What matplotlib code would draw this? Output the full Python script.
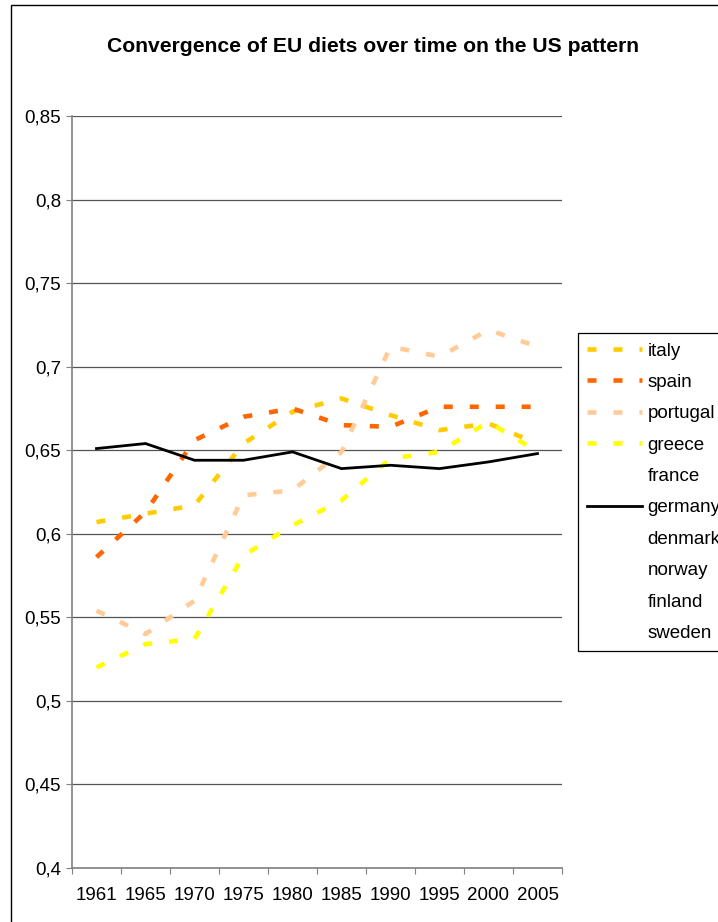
import matplotlib
matplotlib.use("Agg")
import matplotlib.pyplot as plt
from matplotlib.patches import Rectangle

plt.rcParams['font.family'] = ['Liberation Sans', 'DejaVu Sans']
plt.rcParams['lines.scale_dashes'] = False

years = ['1961', '1965', '1970', '1975', '1980', '1985', '1990', '1995', '2000', '2005']

italy = [0.607, 0.612, 0.617, 0.654, 0.673, 0.681, 0.671, 0.662, 0.666, 0.654]
spain = [0.586, 0.613, 0.656, 0.670, 0.675, 0.665, 0.664, 0.676, 0.676, 0.676]
portugal = [0.554, 0.540, 0.560, 0.623, 0.626, 0.649, 0.712, 0.706, 0.722, 0.712]
greece = [0.520, 0.534, 0.537, 0.587, 0.605, 0.620, 0.645, 0.649, 0.667, 0.649]
germany = [0.651, 0.654, 0.644, 0.644, 0.649, 0.639, 0.641, 0.639, 0.643, 0.648]

# countries listed in the key but with no line drawn
no_line = ['france', 'denmark', 'norway', 'finland', 'sweden']

dash = (0, (6.5, 12.2))
series = [
    ('italy', italy, '#FFCC00', dash, 3.3),
    ('spain', spain, '#FF6600', dash, 3.3),
    ('portugal', portugal, '#FFCC99', dash, 3.3),
    ('greece', greece, '#FFFF00', dash, 3.3),
    ('france', None, None, None, None),
    ('germany', germany, 'black', '-', 2.0),
    ('denmark', None, None, None, None),
    ('norway', None, None, None, None),
    ('finland', None, None, None, None),
    ('sweden', None, None, None, None),
]

W, H = 718, 922
fig = plt.figure(figsize=(W / 100, H / 100), dpi=100)
ax = fig.add_axes([72 / W, 1 - 868 / H, (562 - 72) / W, (868 - 116) / H])

x = list(range(len(years)))
for name, vals, color, ls, lw in series:
    if vals is None:
        ax.plot([], [], linestyle='None', label=name)
    else:
        ax.plot(x, vals, color=color, linestyle=ls, linewidth=lw,
                solid_joinstyle='miter', label=name)

ax.set_xlim(-0.5, len(years) - 0.5)
ax.set_ylim(0.4, 0.85)

# y axis with comma decimals
yt = [0.4, 0.45, 0.5, 0.55, 0.6, 0.65, 0.7, 0.75, 0.8, 0.85]
ax.set_yticks(yt)
ax.set_yticklabels([('%g' % v).replace('.', ',') for v in yt], fontsize=13.5)
ax.yaxis.grid(True, color='#555555', linewidth=0.9)
ax.set_axisbelow(True)

# category ticks between the years, labels centred on them
ax.set_xticks([i - 0.5 for i in range(len(years) + 1)])
ax.set_xticklabels([])
ax.set_xticks(x, minor=True)
ax.set_xticklabels(years, minor=True, fontsize=13.5)
ax.tick_params(axis='x', which='minor', length=0, pad=14)
ax.tick_params(axis='x', which='major', length=4, color='#808080', direction='out')
ax.tick_params(axis='y', length=4, color='#808080', direction='out', pad=4)

for side in ['top', 'right']:
    ax.spines[side].set_visible(False)
for side in ['left', 'bottom']:
    ax.spines[side].set_color('#808080')
    ax.spines[side].set_linewidth(1.2)

fig.text(0.52, 1 - 47 / H, 'Convergence of EU diets over time on the US pattern',
         ha='center', va='center', fontsize=15.2, fontweight='bold')

leg = ax.legend(loc='upper left', bbox_to_anchor=(578 / W, 1 - 333 / H),
                bbox_transform=fig.transFigure, borderaxespad=0, fontsize=13.5,
                frameon=True, fancybox=False, framealpha=1, edgecolor='black',
                borderpad=0.5, handlelength=2.93, handletextpad=0.27,
                labelspacing=0.76)
leg.get_frame().set_linewidth(0.9)

# chart border running off the right and bottom edges
fig.add_artist(Rectangle((10.5 / W, -0.5), 2, 1.5 - 5.5 / H,
                         transform=fig.transFigure, fill=False,
                         edgecolor='black', linewidth=1))

fig.savefig('out.png', dpi=100)
plt.close()
